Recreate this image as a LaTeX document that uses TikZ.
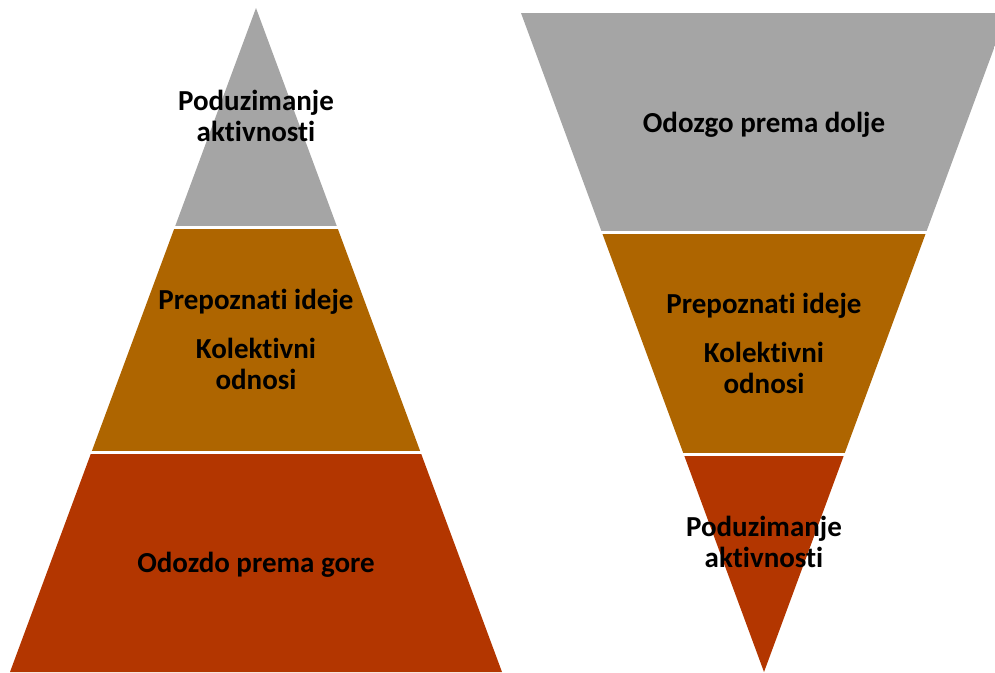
\documentclass[tikz,border=0pt]{standalone}
\usepackage{fontspec}
\setmainfont[Ligatures={NoCommon,NoContextual}]{Carlito}
\definecolor{pgrey}{HTML}{A5A5A5}
\definecolor{pbrown}{HTML}{AE6500}
\definecolor{pred}{HTML}{B33600}
\begin{document}
\begin{tikzpicture}[x=1pt,y=-1pt,
  lbl/.style={font=\fontsize{29}{31}\selectfont\bfseries, text=black, align=center, inner sep=0pt},
  sep/.style={white, line width=3pt}]
\useasboundingbox (0,0) rectangle (995,672);
\begin{scope}
  \clip (0,0) rectangle (995,672);
  % left pyramid
  \begin{scope}
    \clip (256,8) -- (10,672) -- (502,672) -- cycle;
    \fill[pgrey] (0,0) rectangle (520,227);
    \fill[pbrown] (0,227) rectangle (520,452);
    \fill[pred] (0,452) rectangle (520,680);
  \end{scope}
  \draw[sep] (0,227) -- (520,227);
  \draw[sep] (0,452) -- (520,452);
  % right inverted pyramid
  \begin{scope}
    \clip (521,13) -- (1007,13) -- (764,672) -- cycle;
    \fill[pgrey] (510,0) rectangle (1010,232);
    \fill[pbrown] (510,232) rectangle (1010,454);
    \fill[pred] (510,454) rectangle (1010,680);
  \end{scope}
  \draw[sep] (515,232) -- (1000,232);
  \draw[sep] (515,454) -- (1000,454);
\end{scope}
% labels left
\node[lbl] (l1) at (256,116) {Poduzimanje\\aktivnosti};
\node[lbl] (l2) at (256,302) {Prepoznati ideje};
\node[lbl] (l3) at (256,364) {Kolektivni\\odnosi};
\node[lbl] (l4) at (256,565) {Odozdo prema gore};
% labels right
\node[lbl] (r1) at (764,125) {Odozgo prema dolje};
\node[lbl] (r2) at (764,306) {Prepoznati ideje};
\node[lbl] (r3) at (764,368) {Kolektivni\\odnosi};
\node[lbl] (r4) at (764,542) {Poduzimanje\\aktivnosti};
\end{tikzpicture}
\end{document}
